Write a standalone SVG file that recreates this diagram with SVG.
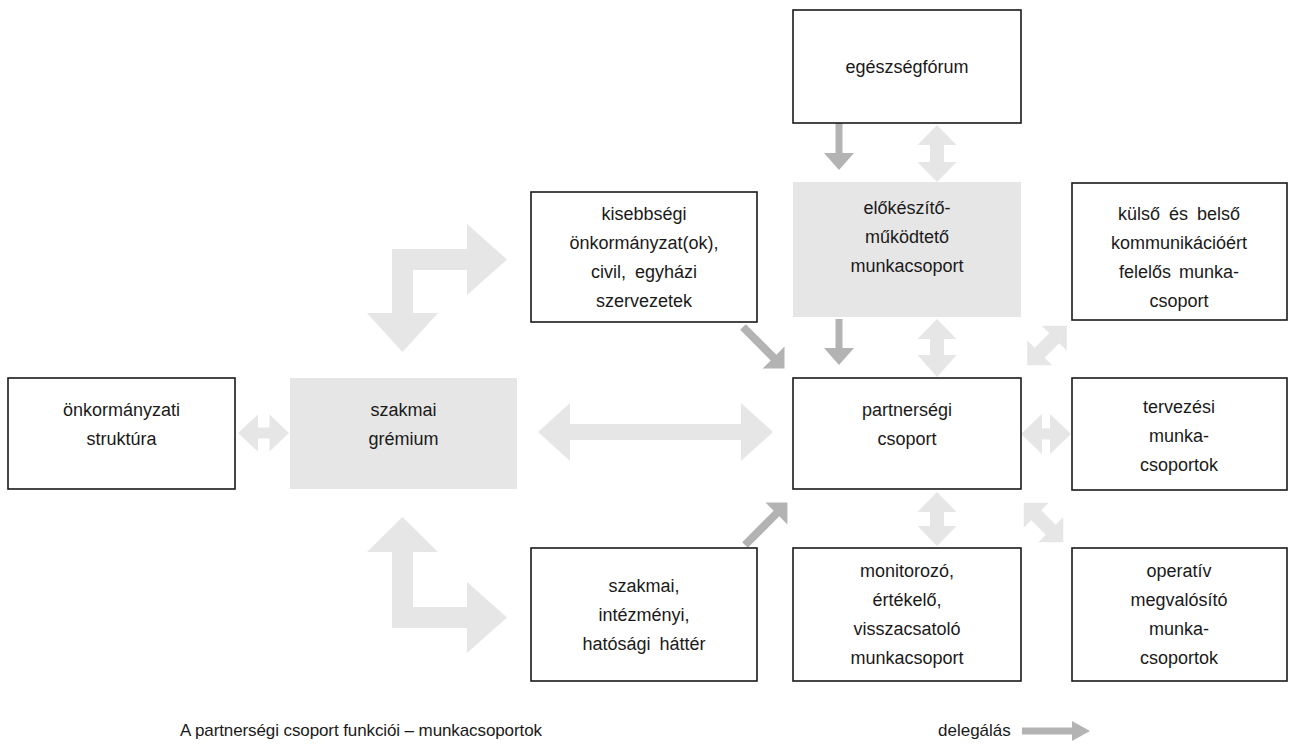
<svg xmlns="http://www.w3.org/2000/svg" width="1297" height="749" viewBox="0 0 1297 749">
<style>
.box{fill:#ffffff;stroke:#1a1a1a;stroke-width:1.6}
.gbox{fill:#e6e6e6;stroke:none}
.t{font-family:"Liberation Sans",Arial,sans-serif;font-size:18px;fill:#1a1a1a;text-anchor:middle}
.lg{font-family:"Liberation Sans",Arial,sans-serif;font-size:17px;fill:#1a1a1a}
.la{fill:#e6e6e6}
.da{fill:#b3b3b3}
</style>
<defs>
<polygon id="dv1" points="-28.5,0 -8.5,-19.5 -8.5,-7 8.5,-7 8.5,-19.5 28.5,0 8.5,19.5 8.5,7 -8.5,7 -8.5,19.5"/>
<polygon id="dd" points="-28,0 -10.3,-17.7 -10.3,-7 10.3,-7 10.3,-17.7 28,0 10.3,17.7 10.3,7 -10.3,7 -10.3,17.7"/>
</defs>
<rect width="1297" height="749" fill="#ffffff"/>

<g id="connectors">
  <polygon class="la" transform="translate(655.5,432)" points="-117.5,0 -85.5,-29 -85.5,-8 85.5,-8 85.5,-29 117.5,0 85.5,29 85.5,8 -85.5,8 -85.5,29"/>
  <polygon class="la" transform="translate(263.5,433)" points="-25.5,0 -5.5,-18.5 -5.5,-5.5 6,-5.5 6,-18.5 25.5,0 6,18.5 6,5.5 -5.5,5.5 -5.5,18.5"/>
  <use href="#dv1" class="la" transform="translate(937,153.5) rotate(90)"/>
  <polygon class="la" transform="translate(937,348) rotate(90)" points="-29,0 -9,-19.5 -9,-7 7,-7 7,-19.5 29,0 7,19.5 7,7 -9,7 -9,19.5"/>
  <polygon class="la" transform="translate(937,519) rotate(90)" points="-27,0 -7,-19.5 -7,-7 7,-7 7,-19.5 27,0 7,19.5 7,7 -7,7 -7,19.5"/>
  <polygon class="la" transform="translate(1046,434)" points="-25,0 -4,-20 -4,-5.5 4,-5.5 4,-20 25,0 4,20 4,5.5 -4,5.5 -4,20"/>
  <use href="#dd" class="la" transform="translate(1047,345.5) rotate(-45)"/>
  <use href="#dd" class="la" transform="translate(1043.5,522.5) rotate(45)"/>
  <polygon class="la" points="507,259.5 467,295 467,270 413,270 413,313 438,313 402.5,352 367,313 392,313 392,249 467,249 467,224"/>
  <polygon class="la" points="402.5,517 438,552 413,552 413,607 467,607 467,582 507,617.5 467,653 467,628 392,628 392,552 367,552"/>
  <polygon class="da" transform="translate(839,123) rotate(90)" points="0,-3.5 30,-3.5 30,-15 47,0 30,15 30,3.5 0,3.5"/>
  <polygon class="da" transform="translate(839,319) rotate(90)" points="0,-3.5 29,-3.5 29,-15 46,0 29,15 29,3.5 0,3.5"/>
  <polygon class="da" transform="translate(743,327) rotate(45)" points="0,-4 43.2,-4 43.2,-15.5 58.7,0 43.2,15.5 43.2,4 0,4"/>
  <polygon class="da" transform="translate(745,545) rotate(-45)" points="0,-4 44.5,-4 44.5,-15.5 60,0 44.5,15.5 44.5,4 0,4"/>
</g>

<g id="egeszsegforum">
  <rect class="box" x="793" y="10" width="228" height="113"/>
  <text class="t" x="907" y="73">egészségfórum</text>
</g>
<g id="elokeszito">
  <rect class="gbox" x="793" y="182" width="228" height="135"/>
  <text class="t" x="907" y="214">előkészítő-</text>
  <text class="t" x="907" y="243">működtető</text>
  <text class="t" x="907" y="272">munkacsoport</text>
</g>
<g id="kisebbsegi">
  <rect class="box" x="531" y="192" width="226" height="130"/>
  <text class="t" x="644" y="220">kisebbségi</text>
  <text class="t" x="644" y="249">önkormányzat(ok),</text>
  <text class="t" x="644" y="278" word-spacing="4">civil, egyházi</text>
  <text class="t" x="644" y="307">szervezetek</text>
</g>
<g id="kulso">
  <rect class="box" x="1072" y="183" width="215" height="137"/>
  <text class="t" x="1179" y="220" word-spacing="4">külső és belső</text>
  <text class="t" x="1179" y="249">kommunikációért</text>
  <text class="t" x="1179" y="278" word-spacing="3">felelős munka-</text>
  <text class="t" x="1179" y="307">csoport</text>
</g>
<g id="onkormanyzati">
  <rect class="box" x="8" y="378" width="227" height="111"/>
  <text class="t" x="121.5" y="416">önkormányzati</text>
  <text class="t" x="121.5" y="445">struktúra</text>
</g>
<g id="szakmai-gremium">
  <rect class="gbox" x="290" y="378" width="227" height="111"/>
  <text class="t" x="403.5" y="416">szakmai</text>
  <text class="t" x="403.5" y="445">grémium</text>
</g>
<g id="partnersegi">
  <rect class="box" x="793" y="378" width="228" height="111"/>
  <text class="t" x="907" y="416">partnerségi</text>
  <text class="t" x="907" y="445">csoport</text>
</g>
<g id="tervezesi">
  <rect class="box" x="1072" y="378" width="215" height="112"/>
  <text class="t" x="1179" y="413">tervezési</text>
  <text class="t" x="1179" y="442">munka-</text>
  <text class="t" x="1179" y="471">csoportok</text>
</g>
<g id="szakmai-hatter">
  <rect class="box" x="531" y="548" width="226" height="133"/>
  <text class="t" x="644" y="592">szakmai,</text>
  <text class="t" x="644" y="621">intézményi,</text>
  <text class="t" x="644" y="650" word-spacing="4">hatósági háttér</text>
</g>
<g id="monitorozo">
  <rect class="box" x="793" y="548" width="228" height="133"/>
  <text class="t" x="907" y="577">monitorozó,</text>
  <text class="t" x="907" y="606">értékelő,</text>
  <text class="t" x="907" y="635">visszacsatoló</text>
  <text class="t" x="907" y="664">munkacsoport</text>
</g>
<g id="operativ">
  <rect class="box" x="1072" y="548" width="215" height="133"/>
  <text class="t" x="1179" y="577">operatív</text>
  <text class="t" x="1179" y="606">megvalósító</text>
  <text class="t" x="1179" y="635">munka-</text>
  <text class="t" x="1179" y="664">csoportok</text>
</g>

<g id="legend">
  <text class="lg" x="180" y="736" textLength="362" lengthAdjust="spacing">A partnerségi csoport funkciói – munkacsoportok</text>
  <text class="lg" x="938" y="736">delegálás</text>
  <polygon class="da" transform="translate(1022,731)" points="0,-3.5 50,-3.5 50,-10 68,0 50,10 50,3.5 0,3.5"/>
</g>
</svg>
